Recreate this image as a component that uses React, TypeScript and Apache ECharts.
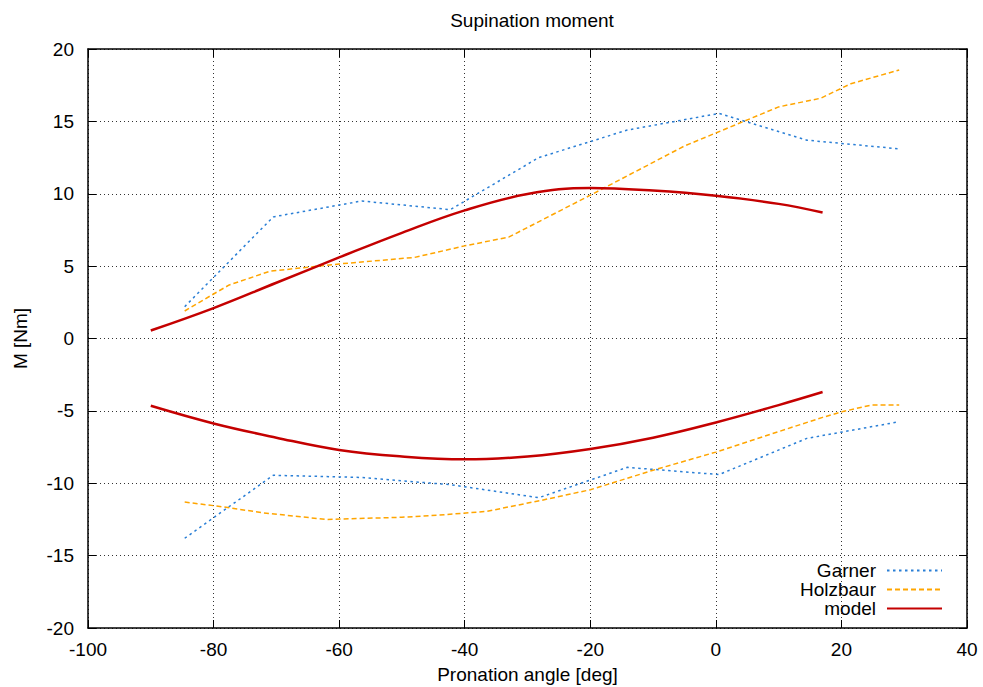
import React, { useEffect, useRef } from "react";
import * as echarts from "echarts";

const garnerX = [-84.6, -70.5, -56.4, -42.3, -28.2, -14.1, 0.5, 14.5, 29.2];
const garnerUpper = [2.2, 8.4, 9.5, 8.9, 12.5, 14.4, 15.55, 13.7, 13.1];
const garnerLower = [-13.8, -9.45, -9.6, -10.1, -11.0, -8.9, -9.4, -6.9, -5.75];

const holzUpperX = [-84.6, -80.3, -77.5, -71, -60, -48, -40, -33, -20, -5, 0, 10, 16.7, 21.5, 29.2];
const holzUpperY = [1.9, 3.0, 3.7, 4.65, 5.15, 5.6, 6.4, 7.0, 9.9, 13.3, 14.2, 16.0, 16.6, 17.6, 18.55];

const holzLowerX = [-84.6, -79, -72, -62, -50, -44, -36.6, -28, -20, -10, 0, 12, 17, 20.2, 24.7, 29.2];
const holzLowerY = [-11.3, -11.6, -12.05, -12.5, -12.35, -12.2, -11.95, -11.2, -10.45, -9.1, -7.85, -6.15, -5.45, -5.05, -4.6, -4.6];

const modelX = [-90, -80, -70, -60, -50, -40, -30, -20, -10, 0, 10, 17];
const modelUpper = [0.55, 2.1, 3.85, 5.6, 7.3, 8.85, 9.98, 10.4, 10.22, 9.86, 9.3, 8.7];
const modelLower = [-4.65, -5.87, -6.85, -7.7, -8.15, -8.35, -8.15, -7.63, -6.85, -5.8, -4.6, -3.7];

const zip = (xs: number[], ys: number[]) => xs.map((x, i) => [x, ys[i]]);

const FONT = "'Liberation Sans', Arial, sans-serif";
const FS = 19;
const BLUE = "#2a7fd6";
const ORANGE = "#ffa500";
const RED = "#c40000";

export default function App() {
  const ref = useRef<HTMLDivElement>(null);
  useEffect(() => {
    if (!ref.current) return;
    const chart = echarts.init(ref.current, undefined, { renderer: "svg" });
    const gridLine = { show: true, lineStyle: { color: "#000", width: 1, type: [1, 3] as any, opacity: 0.8 } };
    const garnerStyle = { color: BLUE, width: 1.5, type: [2.5, 3.5] as any };
    const holzStyle = { color: ORANGE, width: 1.5, type: [5, 3] as any };
    const modelStyle = { color: RED, width: 2.5, type: "solid" as any };
    const mk = (name: string, data: number[][], style: any, color: string, smooth: any = false) => ({
      name,
      type: "line",
      data,
      symbol: "none",
      smooth,
      color,
      lineStyle: style,
      xAxisIndex: 0,
      yAxisIndex: 0,
    });
    const axisLine = { show: true, onZero: false, lineStyle: { color: "#000", width: 1.5 } };
    const axisTick = { show: true, inside: true, length: 8, lineStyle: { color: "#000" } };
    chart.setOption({
      animation: false,
      backgroundColor: "#fff",
      textStyle: { fontFamily: FONT },
      title: {
        text: "Supination moment",
        left: 527,
        textAlign: "center",
        top: 6,
        textStyle: { fontFamily: FONT, fontSize: FS, fontWeight: "normal", color: "#000" },
      },
      grid: { left: 88, right: 16, top: 49, bottom: 59, containLabel: false, outerBoundsMode: "none" },
      legend: {
        data: ["Garner", "Holzbaur", "model"],
        orient: "vertical",
        right: 40,
        top: 561,
        align: "right",
        itemWidth: 55,
        itemHeight: 14,
        itemGap: 0,
        padding: 0,
        itemStyle: { opacity: 0 },
        textStyle: { fontFamily: FONT, fontSize: FS, lineHeight: 19, color: "#000", padding: [0, 6, 0, 0] },
      },
      xAxis: [
        {
          type: "value",
          min: -100,
          max: 40,
          interval: 20,
          name: "Pronation angle [deg]",
          nameLocation: "middle",
          nameGap: 37,
          nameTextStyle: { fontFamily: FONT, fontSize: FS, color: "#000" },
          axisLine,
          axisTick,
          axisLabel: { fontFamily: FONT, fontSize: FS, color: "#000", margin: 12 },
          splitLine: gridLine,
        },
        {
          type: "value",
          position: "top",
          min: -100,
          max: 40,
          interval: 20,
          axisLine,
          axisTick,
          axisLabel: { show: false },
          splitLine: { show: false },
        },
      ],
      yAxis: [
        {
          type: "value",
          min: -20,
          max: 20,
          interval: 5,
          name: "M [Nm]",
          nameLocation: "middle",
          nameGap: 58,
          nameTextStyle: { fontFamily: FONT, fontSize: FS, color: "#000" },
          axisLine,
          axisTick,
          axisLabel: { fontFamily: FONT, fontSize: FS, color: "#000", margin: 14 },
          splitLine: gridLine,
        },
        {
          type: "value",
          position: "right",
          min: -20,
          max: 20,
          interval: 5,
          axisLine,
          axisTick,
          axisLabel: { show: false },
          splitLine: { show: false },
        },
      ],
      series: [
        mk("Garner", zip(garnerX, garnerUpper), garnerStyle, BLUE),
        mk("Garner", zip(garnerX, garnerLower), garnerStyle, BLUE),
        mk("Holzbaur", zip(holzUpperX, holzUpperY), holzStyle, ORANGE),
        mk("Holzbaur", zip(holzLowerX, holzLowerY), holzStyle, ORANGE),
        mk("model", zip(modelX, modelUpper), modelStyle, RED, 0.4),
        mk("model", zip(modelX, modelLower), modelStyle, RED, 0.4),
      ],
    });
    return () => chart.dispose();
  }, []);
  return <div ref={ref} style={{ width: 983, height: 687, position: "absolute", left: 0, top: 0 }} />;
}
